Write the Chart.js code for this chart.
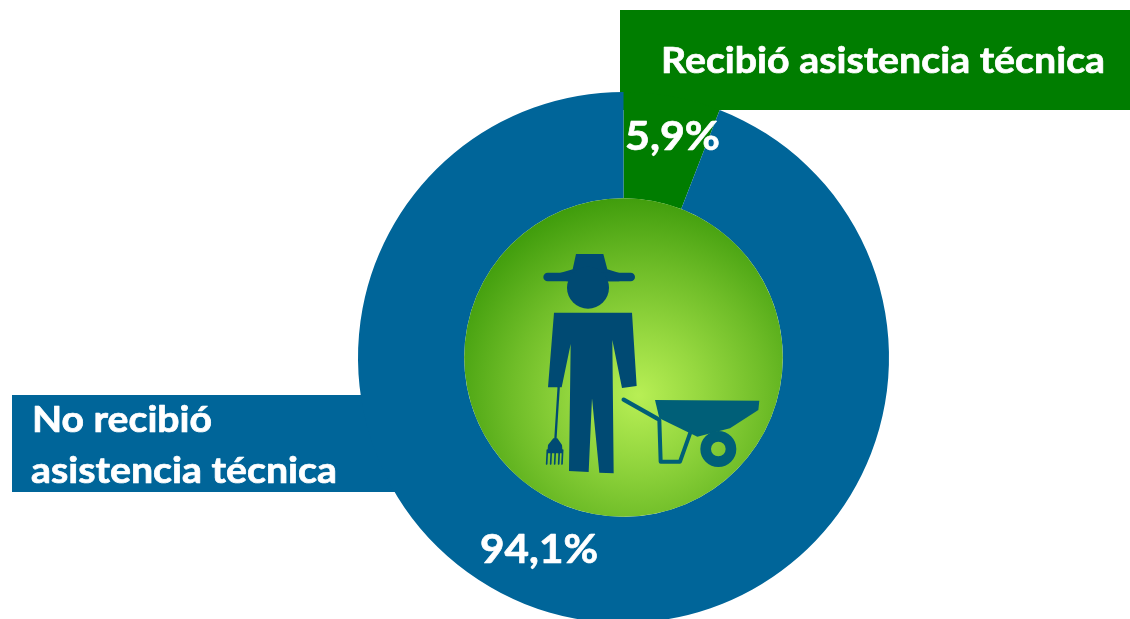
<!DOCTYPE html>
<html lang="es">
<head>
<meta charset="utf-8">
<title>Asistencia técnica</title>
<style>
html,body{margin:0;padding:0;background:#fff;width:1130px;height:619px;overflow:hidden}
#wrap{position:absolute;left:0;top:0;width:1130px;height:715px}
</style>
<script src="https://cdn.jsdelivr.net/npm/chart.js@4"></script>
</head>
<body>
<div id="wrap"><canvas id="c" width="1130" height="715"></canvas></div>
<script>
const categories = ["Recibió asistencia técnica", "No recibió asistencia técnica"];
const values = [5.9, 94.1];
const colors = ["#007d00", "#006599"];
const valueLabels = ["5,9%", "94,1%"];
const legendLines = [["Recibió asistencia técnica"], ["No recibió", "asistencia técnica"]];

const FONT = 'bold 37px Lato, "Open Sans", sans-serif';
const FONT_VAL = 'bold 41px Lato, "Open Sans", sans-serif';

function poly(ctx, pts){ctx.beginPath();pts.forEach((p,i)=>i?ctx.lineTo(p[0],p[1]):ctx.moveTo(p[0],p[1]));ctx.closePath();ctx.fill();}
function seg(ctx, a, b, w){ctx.lineWidth=w;ctx.lineCap="round";ctx.beginPath();ctx.moveTo(a[0],a[1]);ctx.lineTo(b[0],b[1]);ctx.stroke();}
function fitText(ctx, text, x, y, width){
  const m=ctx.measureText(text).width;
  ctx.save();
  ctx.translate(x,y);ctx.scale(width/m,1);
  ctx.strokeStyle="#fff";ctx.lineWidth=0.7;ctx.lineJoin="round";
  ctx.strokeText(text,0,0);
  ctx.fillText(text,0,0);
  ctx.restore();
}

function drawIcon(ctx, cx, cy){
  ctx.save();
  ctx.translate(cx-163.5, cy-167.5);
  ctx.scale(1/3,1/3);
  const man="#004a73", barrow="#005f78";
  ctx.fillStyle=man; ctx.strokeStyle=man;
  // hat and head
  poly(ctx,[[348,192],[430,192],[442,238],[478,249],[478,274],[320,274],[300,249],[338,238]]);
  seg(ctx,[263,261],[512,261],26);
  ctx.beginPath();ctx.arc(384,293,63,0,Math.PI*2);ctx.fill();
  // body
  poly(ctx,[[282,368],[516,368],[530,588],[486,594],[457,450],[461,850],[418,848],[396,625],[386,846],[327,843],[332,462],[305,592],[264,592]]);
  // fork
  seg(ctx,[296,592],[286,750],7);
  poly(ctx,[[280,745],[292,745],[306,765],[308,790],[262,790],[264,765]]);
  [262,274,286,298,308].forEach(x=>seg(ctx,[x,780],[x-2,822],5));
  // wheelbarrow
  ctx.fillStyle=barrow; ctx.strokeStyle=barrow;
  seg(ctx,[491,629],[592,686],13);
  poly(ctx,[[585,630],[898,632],[895,660],[810,715],[712,740],[598,685]]);
  ctx.lineCap="round";ctx.lineJoin="round";ctx.lineWidth=12;
  ctx.beginPath();ctx.moveTo(598,690);ctx.lineTo(602,815);ctx.lineTo(660,815);ctx.lineTo(692,725);ctx.stroke();
  ctx.lineWidth=32;
  ctx.beginPath();ctx.arc(775,777,38,0,Math.PI*2);ctx.stroke();
  ctx.restore();
}

const decor = {
  id:"decor",
  beforeDatasetsDraw(chart){
    const ctx=chart.ctx;
    const arc=chart.getDatasetMeta(0).data[0];
    ctx.save();
    ctx.fillStyle=colors[0]; ctx.fillRect(arc.x-3.5,10,510,100);
    ctx.fillStyle=colors[1]; ctx.fillRect(12,arc.y+37.5,400,97);
    ctx.restore();
  },
  afterDatasetsDraw(chart){
    const ctx=chart.ctx;
    const arc=chart.getDatasetMeta(0).data[0];
    const {x:cx,y:cy,innerRadius:r}=arc;
    ctx.save();
    const g=ctx.createRadialGradient(cx+15,cy+38,0,cx+15,cy+38,205);
    g.addColorStop(0,"#b8ef55");
    g.addColorStop(0.3,"#96d840");
    g.addColorStop(0.62,"#6fbd28");
    g.addColorStop(1,"#3c9a0a");
    ctx.fillStyle=g;
    ctx.beginPath();ctx.arc(cx,cy,r,0,Math.PI*2);ctx.fill();
    drawIcon(ctx,cx,cy);
    ctx.fillStyle="#fff";
    ctx.textBaseline="alphabetic";ctx.textAlign="left";
    ctx.font=FONT;
    fitText(ctx,legendLines[0][0],661,73,444);
    fitText(ctx,legendLines[1][0],32,432,180);
    fitText(ctx,legendLines[1][1],31,483,306);
    ctx.font=FONT_VAL;
    fitText(ctx,valueLabels[0],625,150,95);
    fitText(ctx,valueLabels[1],480,563,118);
    ctx.restore();
  }
};

new Chart(document.getElementById("c"),{
  type:"doughnut",
  data:{labels:categories,datasets:[{data:values,backgroundColor:colors,borderWidth:0}]},
  options:{
    responsive:false,animation:false,cutout:"60%",
    layout:{padding:{left:358,right:241,top:92,bottom:92}},
    plugins:{legend:{display:false},tooltip:{enabled:false}}
  },
  plugins:[decor]
});
</script>
</body>
</html>
